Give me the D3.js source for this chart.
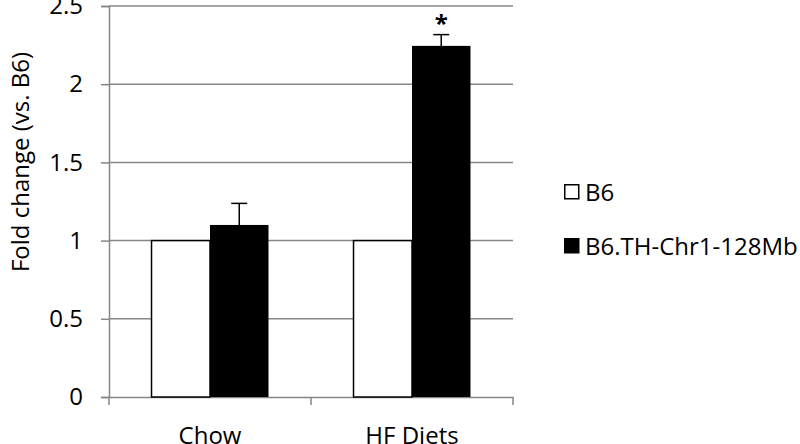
<!DOCTYPE html>
<html>
<head>
<meta charset="utf-8">
<script src="https://cdn.jsdelivr.net/npm/d3@7"></script>
<style>
    body { margin: 0; background: #fff; }
    text { font-family: "Open Sans", sans-serif; fill: #000; }
</style>
</head>
<body>
<svg id="chart_id" width="800" height="444"></svg>
<script>
var categories = ["Chow", "HF Diets"];
var seriesNames = ["B6", "B6.TH-Chr1-128Mb"];
var b6Values = [1, 1];
var congenicValues = [1.10, 2.245];
var congenicErrors = [0.138, 0.072];
var significant = [false, true];
var yTicks = [0, 0.5, 1, 1.5, 2, 2.5];
var yTickLabels = ["0", "0.5", "1", "1.5", "2", "2.5"];

var chart = d3.select('#chart_id');

var y = d3.scaleLinear().domain([0, 2.5]).range([397, 6]);
var x0 = d3.scaleBand().domain(categories).range([109, 513]);
var x1 = d3.scaleBand().domain(seriesNames).range([0, x0.bandwidth()]).paddingOuter(0.727);

var rows = categories.map((c, i) => ({
    cat: c,
    b6: b6Values[i],
    con: congenicValues[i],
    err: congenicErrors[i],
    star: significant[i]
}));

// grid lines
chart.selectAll()
    .data(yTicks.slice(1))
    .enter().append("line")
    .attr("x1", 109)
    .attr("x2", 513)
    .attr("y1", d => y(d))
    .attr("y2", d => y(d))
    .attr("style", "stroke:#868686;stroke-width:1.5;");

// y axis
var yAxis = chart.append("g")
    .attr("transform", "translate(109,0)")
    .call(d3.axisLeft(y).tickValues(yTicks).tickSize(8).tickFormat((d, i) => yTickLabels[i]));
yAxis.select(".domain").attr("style", "stroke:#868686;stroke-width:1.5;");
yAxis.selectAll(".tick line").attr("style", "stroke:#868686;stroke-width:1.5;");
yAxis.selectAll(".tick text")
    .attr("x", -26)
    .attr("style", "font-size:24px;font-family:'Open Sans',sans-serif;fill:#000;");

// x axis
var xAxis = chart.append("g")
    .attr("transform", "translate(0,397)")
    .call(d3.axisBottom(x0).tickSize(0).tickFormat(""));
xAxis.select(".domain").attr("style", "stroke:#868686;stroke-width:1.5;");

var xTickPos = [109].concat(categories.map(c => x0(c) + x0.bandwidth()));
chart.selectAll()
    .data(xTickPos)
    .enter().append("line")
    .attr("x1", d => d)
    .attr("x2", d => d)
    .attr("y1", 397)
    .attr("y2", 405)
    .attr("style", "stroke:#868686;stroke-width:1.5;");

chart.selectAll()
    .data(categories)
    .enter().append("text")
    .attr("x", d => x0(d) + x0.bandwidth() / 2)
    .attr("y", 444)
    .attr("text-anchor", "middle")
    .attr("style", "font-size:24px;")
    .text(d => d);

// white bars (B6)
chart.selectAll()
    .data(rows)
    .enter().append("rect")
    .attr("x", d => x0(d.cat) + x1("B6"))
    .attr("y", d => y(d.b6))
    .attr("width", x1.bandwidth())
    .attr("height", d => y(0) - y(d.b6))
    .attr("style", "fill:#fff;stroke:#000;stroke-width:1.5;");

// error bars
chart.selectAll()
    .data(rows)
    .enter().append("line")
    .attr("x1", d => x0(d.cat) + x1("B6.TH-Chr1-128Mb") + x1.bandwidth() / 2)
    .attr("x2", d => x0(d.cat) + x1("B6.TH-Chr1-128Mb") + x1.bandwidth() / 2)
    .attr("y1", d => y(d.con))
    .attr("y2", d => y(d.con + d.err))
    .attr("style", "stroke:#000;stroke-width:1.5;");

chart.selectAll()
    .data(rows)
    .enter().append("line")
    .attr("x1", d => x0(d.cat) + x1("B6.TH-Chr1-128Mb") + x1.bandwidth() / 2 - 8)
    .attr("x2", d => x0(d.cat) + x1("B6.TH-Chr1-128Mb") + x1.bandwidth() / 2 + 8)
    .attr("y1", d => y(d.con + d.err))
    .attr("y2", d => y(d.con + d.err))
    .attr("style", "stroke:#000;stroke-width:1.5;");

// black bars
chart.selectAll()
    .data(rows)
    .enter().append("rect")
    .attr("x", d => x0(d.cat) + x1("B6.TH-Chr1-128Mb"))
    .attr("y", d => y(d.con))
    .attr("width", x1.bandwidth())
    .attr("height", d => y(0) - y(d.con))
    .attr("style", "fill:#000;");

// significance star
chart.selectAll()
    .data(rows.filter(d => d.star))
    .enter().append("text")
    .attr("x", d => x0(d.cat) + x1("B6.TH-Chr1-128Mb") + x1.bandwidth() / 2)
    .attr("y", d => y(d.con + d.err) - 3)
    .attr("text-anchor", "middle")
    .attr("style", "font-size:24px;font-weight:bold;")
    .text("*");

// y title
chart.append("text")
    .attr("transform", "translate(29,162) rotate(-90)")
    .attr("text-anchor", "middle")
    .attr("style", "font-size:24px;")
    .text("Fold change (vs. B6)");

// legend
var legendY = [184, 238];
var legend = chart.selectAll()
    .data(seriesNames)
    .enter().append("g")
    .attr("transform", (d, i) => "translate(564," + legendY[i] + ")");

legend.append("rect")
    .attr("x", 0.75)
    .attr("y", 0.75)
    .attr("width", 14)
    .attr("height", 14)
    .attr("style", (d, i) => i == 0 ? "fill:#fff;stroke:#000;stroke-width:1.5;" : "fill:#000;stroke:#000;stroke-width:1.5;");

legend.append("text")
    .attr("x", 21)
    .attr("y", 17)
    .attr("style", "font-size:24px;")
    .text(d => d);
</script>
</body>
</html>
